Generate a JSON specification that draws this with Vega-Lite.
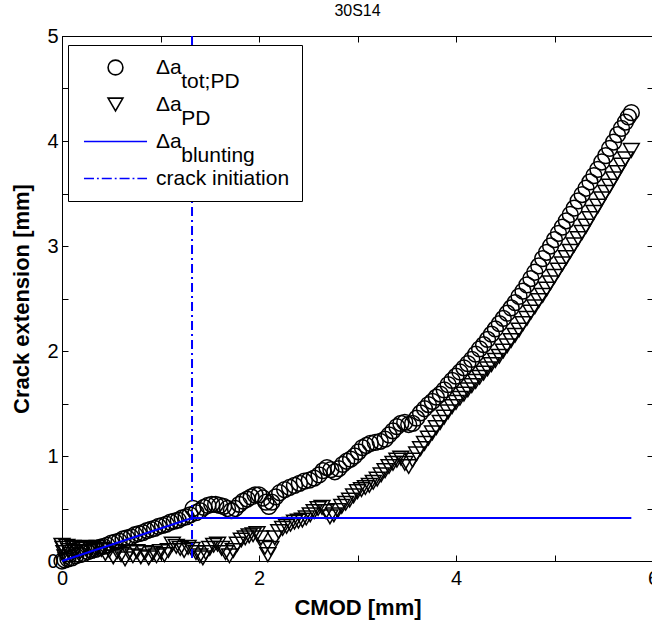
{
  "$schema": "https://vega.github.io/schema/vega-lite/v6.json",
  "width": 591,
  "height": 525,
  "autosize": {"type": "none"},
  "padding": {"left": 62, "top": 36, "right": 0, "bottom": 68},
  "background": "white",
  "title": {"text": "30S14", "font": "Liberation Sans", "fontSize": 16, "fontWeight": "normal", "color": "black", "offset": 7},
  "config": {
    "view": {"stroke": "black", "strokeWidth": 1},
    "font": "Liberation Sans",
    "style": {"guide-label": {"lineHeight": 14}},
    "axis": {"grid": false, "domainColor": "black", "domainWidth": 1, "tickColor": "black", "tickWidth": 1, "tickSize": -6,
      "labelFont": "Liberation Sans", "labelFontSize": 20, "labelColor": "black", "titleFont": "Liberation Sans", "titleFontSize": 22, "titleFontWeight": "bold", "titleColor": "black"},
    "legend": {"labelFont": "Liberation Sans", "labelFontSize": 21, "labelColor": "black"}
  },
  "datasets": {
    "pts": [
      {"s":"tot;PD","x":0.00,"y":0.00},{"s":"tot;PD","x":0.03,"y":0.01},{"s":"tot;PD","x":0.06,"y":0.02},{"s":"tot;PD","x":0.10,"y":0.03},{"s":"tot;PD","x":0.14,"y":0.05},{"s":"tot;PD","x":0.18,"y":0.06},{"s":"tot;PD","x":0.22,"y":0.07},{"s":"tot;PD","x":0.26,"y":0.09},{"s":"tot;PD","x":0.30,"y":0.10},{"s":"tot;PD","x":0.34,"y":0.11},{"s":"tot;PD","x":0.38,"y":0.13},{"s":"tot;PD","x":0.42,"y":0.14},{"s":"tot;PD","x":0.46,"y":0.15},{"s":"tot;PD","x":0.50,"y":0.17},{"s":"tot;PD","x":0.54,"y":0.18},{"s":"tot;PD","x":0.58,"y":0.19},{"s":"tot;PD","x":0.62,"y":0.21},{"s":"tot;PD","x":0.66,"y":0.22},{"s":"tot;PD","x":0.70,"y":0.23},{"s":"tot;PD","x":0.74,"y":0.25},{"s":"tot;PD","x":0.78,"y":0.26},{"s":"tot;PD","x":0.82,"y":0.27},{"s":"tot;PD","x":0.86,"y":0.29},{"s":"tot;PD","x":0.90,"y":0.30},{"s":"tot;PD","x":0.94,"y":0.31},{"s":"tot;PD","x":0.98,"y":0.33},{"s":"tot;PD","x":1.02,"y":0.34},{"s":"tot;PD","x":1.06,"y":0.35},{"s":"tot;PD","x":1.10,"y":0.37},{"s":"tot;PD","x":1.14,"y":0.38},{"s":"tot;PD","x":1.18,"y":0.39},{"s":"tot;PD","x":1.22,"y":0.41},{"s":"tot;PD","x":1.26,"y":0.42},{"s":"tot;PD","x":1.30,"y":0.44},
      {"s":"tot;PD","x":1.33,"y":0.50},{"s":"tot;PD","x":1.36,"y":0.46},{"s":"tot;PD","x":1.40,"y":0.48},{"s":"tot;PD","x":1.44,"y":0.51},{"s":"tot;PD","x":1.48,"y":0.53},{"s":"tot;PD","x":1.52,"y":0.54},{"s":"tot;PD","x":1.56,"y":0.54},{"s":"tot;PD","x":1.60,"y":0.53},{"s":"tot;PD","x":1.64,"y":0.52},{"s":"tot;PD","x":1.68,"y":0.50},{"s":"tot;PD","x":1.72,"y":0.48},{"s":"tot;PD","x":1.76,"y":0.50},{"s":"tot;PD","x":1.80,"y":0.54},{"s":"tot;PD","x":1.84,"y":0.57},{"s":"tot;PD","x":1.88,"y":0.59},{"s":"tot;PD","x":1.92,"y":0.61},{"s":"tot;PD","x":1.96,"y":0.63},{"s":"tot;PD","x":2.00,"y":0.63},{"s":"tot;PD","x":2.04,"y":0.60},{"s":"tot;PD","x":2.07,"y":0.56},{"s":"tot;PD","x":2.10,"y":0.52},{"s":"tot;PD","x":2.13,"y":0.56},{"s":"tot;PD","x":2.17,"y":0.61},{"s":"tot;PD","x":2.21,"y":0.65},{"s":"tot;PD","x":2.26,"y":0.68},{"s":"tot;PD","x":2.31,"y":0.70},{"s":"tot;PD","x":2.36,"y":0.72},{"s":"tot;PD","x":2.41,"y":0.74},{"s":"tot;PD","x":2.46,"y":0.76},{"s":"tot;PD","x":2.51,"y":0.77},{"s":"tot;PD","x":2.56,"y":0.79},{"s":"tot;PD","x":2.61,"y":0.82},{"s":"tot;PD","x":2.65,"y":0.86},{"s":"tot;PD","x":2.69,"y":0.89},{"s":"tot;PD","x":2.73,"y":0.87},{"s":"tot;PD","x":2.77,"y":0.85},{"s":"tot;PD","x":2.81,"y":0.88},{"s":"tot;PD","x":2.85,"y":0.92},{"s":"tot;PD","x":2.89,"y":0.95},{"s":"tot;PD","x":2.93,"y":0.97},{"s":"tot;PD","x":2.97,"y":1.00},{"s":"tot;PD","x":3.01,"y":1.04},{"s":"tot;PD","x":3.05,"y":1.08},{"s":"tot;PD","x":3.09,"y":1.10},{"s":"tot;PD","x":3.13,"y":1.12},{"s":"tot;PD","x":3.18,"y":1.13},{"s":"tot;PD","x":3.23,"y":1.14},{"s":"tot;PD","x":3.28,"y":1.16},{"s":"tot;PD","x":3.32,"y":1.20},{"s":"tot;PD","x":3.36,"y":1.24},{"s":"tot;PD","x":3.40,"y":1.28},{"s":"tot;PD","x":3.44,"y":1.31},{"s":"tot;PD","x":3.48,"y":1.32},{"s":"tot;PD","x":3.52,"y":1.30},{"s":"tot;PD","x":3.56,"y":1.31},{"s":"tot;PD","x":3.60,"y":1.36},{"s":"tot;PD","x":3.64,"y":1.41},{"s":"tot;PD","x":3.68,"y":1.45},{"s":"tot;PD","x":3.72,"y":1.49},{"s":"tot;PD","x":3.76,"y":1.52},{"s":"tot;PD","x":3.80,"y":1.56},{"s":"tot;PD","x":3.84,"y":1.59},{"s":"tot;PD","x":3.88,"y":1.63},{"s":"tot;PD","x":3.92,"y":1.68},{"s":"tot;PD","x":3.96,"y":1.72},{"s":"tot;PD","x":4.00,"y":1.76},{"s":"tot;PD","x":4.04,"y":1.80},{"s":"tot;PD","x":4.08,"y":1.84},{"s":"tot;PD","x":4.12,"y":1.88},{"s":"tot;PD","x":4.16,"y":1.92},{"s":"tot;PD","x":4.20,"y":1.97},{"s":"tot;PD","x":4.24,"y":2.02},{"s":"tot;PD","x":4.28,"y":2.06},{"s":"tot;PD","x":4.32,"y":2.11},{"s":"tot;PD","x":4.36,"y":2.16},{"s":"tot;PD","x":4.40,"y":2.21},{"s":"tot;PD","x":4.44,"y":2.26},{"s":"tot;PD","x":4.48,"y":2.31},{"s":"tot;PD","x":4.52,"y":2.36},{"s":"tot;PD","x":4.56,"y":2.41},{"s":"tot;PD","x":4.60,"y":2.46},{"s":"tot;PD","x":4.64,"y":2.52},{"s":"tot;PD","x":4.68,"y":2.57},{"s":"tot;PD","x":4.72,"y":2.63},{"s":"tot;PD","x":4.76,"y":2.69},{"s":"tot;PD","x":4.80,"y":2.75},{"s":"tot;PD","x":4.84,"y":2.81},{"s":"tot;PD","x":4.88,"y":2.88},{"s":"tot;PD","x":4.92,"y":2.94},{"s":"tot;PD","x":4.96,"y":3.00},{"s":"tot;PD","x":5.00,"y":3.06},{"s":"tot;PD","x":5.04,"y":3.12},{"s":"tot;PD","x":5.08,"y":3.18},{"s":"tot;PD","x":5.12,"y":3.24},{"s":"tot;PD","x":5.16,"y":3.30},{"s":"tot;PD","x":5.20,"y":3.36},{"s":"tot;PD","x":5.24,"y":3.43},{"s":"tot;PD","x":5.28,"y":3.49},{"s":"tot;PD","x":5.32,"y":3.55},{"s":"tot;PD","x":5.36,"y":3.61},{"s":"tot;PD","x":5.40,"y":3.67},{"s":"tot;PD","x":5.44,"y":3.73},{"s":"tot;PD","x":5.48,"y":3.80},{"s":"tot;PD","x":5.52,"y":3.86},{"s":"tot;PD","x":5.56,"y":3.93},{"s":"tot;PD","x":5.60,"y":3.99},{"s":"tot;PD","x":5.64,"y":4.06},{"s":"tot;PD","x":5.68,"y":4.12},{"s":"tot;PD","x":5.72,"y":4.18},{"s":"tot;PD","x":5.75,"y":4.23},{"s":"tot;PD","x":5.78,"y":4.27},
      {"s":"PD","x":0.00,"y":0.15},{"s":"PD","x":0.01,"y":0.12},{"s":"PD","x":0.02,"y":0.08},{"s":"PD","x":0.03,"y":0.04},{"s":"PD","x":0.04,"y":0.01},{"s":"PD","x":0.05,"y":0.14},{"s":"PD","x":0.07,"y":0.10},{"s":"PD","x":0.09,"y":0.06},{"s":"PD","x":0.11,"y":0.13},{"s":"PD","x":0.13,"y":0.09},{"s":"PD","x":0.15,"y":0.12},{"s":"PD","x":0.18,"y":0.08},{"s":"PD","x":0.21,"y":0.11},{"s":"PD","x":0.24,"y":0.13},{"s":"PD","x":0.27,"y":0.09},{"s":"PD","x":0.30,"y":0.12},{"s":"PD","x":0.33,"y":0.10},{"s":"PD","x":0.36,"y":0.13},{"s":"PD","x":0.40,"y":0.11},{"s":"PD","x":0.44,"y":0.07},{"s":"PD","x":0.48,"y":0.10},{"s":"PD","x":0.52,"y":0.04},{"s":"PD","x":0.56,"y":0.09},{"s":"PD","x":0.60,"y":0.06},{"s":"PD","x":0.64,"y":0.02},{"s":"PD","x":0.68,"y":0.08},{"s":"PD","x":0.72,"y":0.05},{"s":"PD","x":0.76,"y":0.09},{"s":"PD","x":0.80,"y":0.04},{"s":"PD","x":0.84,"y":0.08},{"s":"PD","x":0.88,"y":0.03},{"s":"PD","x":0.92,"y":0.07},{"s":"PD","x":0.96,"y":0.05},{"s":"PD","x":1.00,"y":0.09},{"s":"PD","x":1.04,"y":0.06},{"s":"PD","x":1.08,"y":0.10},{"s":"PD","x":1.12,"y":0.16},{"s":"PD","x":1.16,"y":0.14},{"s":"PD","x":1.20,"y":0.12},{"s":"PD","x":1.24,"y":0.10},{"s":"PD","x":1.28,"y":0.13},{"s":"PD","x":1.32,"y":0.11},{"s":"PD","x":1.36,"y":0.08},{"s":"PD","x":1.40,"y":0.05},{"s":"PD","x":1.43,"y":0.03},{"s":"PD","x":1.46,"y":0.08},{"s":"PD","x":1.50,"y":0.12},{"s":"PD","x":1.54,"y":0.15},{"s":"PD","x":1.58,"y":0.16},{"s":"PD","x":1.62,"y":0.12},{"s":"PD","x":1.66,"y":0.08},{"s":"PD","x":1.70,"y":0.05},{"s":"PD","x":1.74,"y":0.10},{"s":"PD","x":1.78,"y":0.16},{"s":"PD","x":1.82,"y":0.20},{"s":"PD","x":1.86,"y":0.22},{"s":"PD","x":1.90,"y":0.24},{"s":"PD","x":1.94,"y":0.25},{"s":"PD","x":1.98,"y":0.26},{"s":"PD","x":2.02,"y":0.22},{"s":"PD","x":2.06,"y":0.13},{"s":"PD","x":2.09,"y":0.06},{"s":"PD","x":2.12,"y":0.12},{"s":"PD","x":2.16,"y":0.22},{"s":"PD","x":2.20,"y":0.28},{"s":"PD","x":2.24,"y":0.31},{"s":"PD","x":2.28,"y":0.33},{"s":"PD","x":2.32,"y":0.35},{"s":"PD","x":2.36,"y":0.37},{"s":"PD","x":2.40,"y":0.38},{"s":"PD","x":2.44,"y":0.39},{"s":"PD","x":2.48,"y":0.41},{"s":"PD","x":2.52,"y":0.44},{"s":"PD","x":2.56,"y":0.47},{"s":"PD","x":2.60,"y":0.50},{"s":"PD","x":2.64,"y":0.51},{"s":"PD","x":2.68,"y":0.47},{"s":"PD","x":2.72,"y":0.42},{"s":"PD","x":2.76,"y":0.44},{"s":"PD","x":2.80,"y":0.48},{"s":"PD","x":2.84,"y":0.52},{"s":"PD","x":2.88,"y":0.55},{"s":"PD","x":2.92,"y":0.58},{"s":"PD","x":2.96,"y":0.62},{"s":"PD","x":3.00,"y":0.66},{"s":"PD","x":3.04,"y":0.68},{"s":"PD","x":3.08,"y":0.70},{"s":"PD","x":3.12,"y":0.72},{"s":"PD","x":3.16,"y":0.75},{"s":"PD","x":3.20,"y":0.78},{"s":"PD","x":3.24,"y":0.82},{"s":"PD","x":3.28,"y":0.86},{"s":"PD","x":3.32,"y":0.90},{"s":"PD","x":3.36,"y":0.93},{"s":"PD","x":3.40,"y":0.96},{"s":"PD","x":3.44,"y":0.98},{"s":"PD","x":3.48,"y":0.93},{"s":"PD","x":3.52,"y":0.90},{"s":"PD","x":3.56,"y":0.96},{"s":"PD","x":3.60,"y":1.02},{"s":"PD","x":3.64,"y":1.07},{"s":"PD","x":3.68,"y":1.12},{"s":"PD","x":3.72,"y":1.17},{"s":"PD","x":3.76,"y":1.22},{"s":"PD","x":3.80,"y":1.27},{"s":"PD","x":3.84,"y":1.32},{"s":"PD","x":3.88,"y":1.37},{"s":"PD","x":3.92,"y":1.42},{"s":"PD","x":3.96,"y":1.47},{"s":"PD","x":4.00,"y":1.51},{"s":"PD","x":4.04,"y":1.55},{"s":"PD","x":4.08,"y":1.59},{"s":"PD","x":4.12,"y":1.63},{"s":"PD","x":4.16,"y":1.67},{"s":"PD","x":4.20,"y":1.71},{"s":"PD","x":4.24,"y":1.75},{"s":"PD","x":4.28,"y":1.79},{"s":"PD","x":4.32,"y":1.83},{"s":"PD","x":4.36,"y":1.87},{"s":"PD","x":4.40,"y":1.91},{"s":"PD","x":4.44,"y":1.95},{"s":"PD","x":4.48,"y":2.00},{"s":"PD","x":4.52,"y":2.05},{"s":"PD","x":4.56,"y":2.10},{"s":"PD","x":4.60,"y":2.15},{"s":"PD","x":4.64,"y":2.20},{"s":"PD","x":4.68,"y":2.26},{"s":"PD","x":4.72,"y":2.31},{"s":"PD","x":4.76,"y":2.37},{"s":"PD","x":4.80,"y":2.42},{"s":"PD","x":4.84,"y":2.48},{"s":"PD","x":4.88,"y":2.53},{"s":"PD","x":4.92,"y":2.59},{"s":"PD","x":4.96,"y":2.65},{"s":"PD","x":5.00,"y":2.71},{"s":"PD","x":5.04,"y":2.77},{"s":"PD","x":5.08,"y":2.83},{"s":"PD","x":5.12,"y":2.89},{"s":"PD","x":5.16,"y":2.95},{"s":"PD","x":5.20,"y":3.01},{"s":"PD","x":5.24,"y":3.07},{"s":"PD","x":5.28,"y":3.13},{"s":"PD","x":5.32,"y":3.19},{"s":"PD","x":5.36,"y":3.26},{"s":"PD","x":5.40,"y":3.32},{"s":"PD","x":5.44,"y":3.38},{"s":"PD","x":5.48,"y":3.45},{"s":"PD","x":5.52,"y":3.51},{"s":"PD","x":5.56,"y":3.57},{"s":"PD","x":5.60,"y":3.64},{"s":"PD","x":5.64,"y":3.70},{"s":"PD","x":5.68,"y":3.77},{"s":"PD","x":5.72,"y":3.83},{"s":"PD","x":5.78,"y":3.91}
    ],
    "blunt": [
      {"s":"blunting","x":0,"y":0},{"s":"blunting","x":1.32,"y":0.41},{"s":"blunting","x":5.78,"y":0.41}
    ],
    "init": [
      {"s":"crack initiation","x":1.32}
    ]
  },
  "resolve": {"axis": {"x": "independent", "y": "independent"}},
  "layer": [
    {
      "data": {"name": "pts"},
      "mark": {"type": "point", "filled": false, "size": 250, "strokeWidth": 1.5, "opacity": 1},
      "encoding": {
        "x": {"field": "x", "type": "quantitative", "scale": {"domain": [0, 6], "nice": false, "zero": false},
          "axis": {"orient": "bottom", "values": [0,1,2,3,4,5,6], "labelExpr": "datum.value % 2 === 0 ? format(datum.value, 'd') : ''", "labelPadding": 13, "title": "CMOD [mm]", "titlePadding": 9, "labelFlush": false}},
        "y": {"field": "y", "type": "quantitative", "scale": {"domain": [0, 5], "nice": false, "zero": false},
          "axis": {"orient": "left", "values": [0,0.5,1,1.5,2,2.5,3,3.5,4,4.5,5], "labelExpr": "datum.value % 1 === 0 ? format(datum.value, 'd') : ''", "labelPadding": 10, "title": "Crack extension [mm]", "titlePadding": 13, "labelFlush": false}},
        "shape": {"field": "s", "type": "nominal",
          "scale": {"domain": ["tot;PD", "PD", "blunting", "crack initiation"],
                    "range": ["circle", "triangle-down", "M-4.25,0H4.25", "M-4.25,0H-2.9M-2.5,0H-2.25M-1.85,0H-0.5M-0.1,0H0.15M0.55,0H1.9M2.3,0H2.55M2.95,0H4.25"]},
          "legend": {"title": null, "orient": "none", "legendX": 6, "legendY": 9, "labelExpr": "datum.label === 'crack initiation' ? datum.label : ['Δa', '\u200b\u2002\u2002\u2009' + datum.label]",
            "strokeColor": "black", "fillColor": "white", "padding": 12, "cornerRadius": 0, "labelOffset": 30, "symbolOffset": 25, "rowPadding": 1, "symbolStrokeWidth": 1.6, "symbolSize": 220}},
        "color": {"field": "s", "type": "nominal",
          "scale": {"domain": ["tot;PD", "PD", "blunting", "crack initiation"], "range": ["#000000", "#000000", "#0000ff", "#0000ff"]},
          "legend": {"title": null, "orient": "none", "legendX": 6, "legendY": 9, "labelExpr": "datum.label === 'crack initiation' ? datum.label : ['Δa', '\u200b\u2002\u2002\u2009' + datum.label]",
            "strokeColor": "black", "fillColor": "white", "padding": 12, "cornerRadius": 0, "labelOffset": 30, "symbolOffset": 25, "rowPadding": 1, "symbolStrokeWidth": 1.6, "symbolSize": 220}}
      }
    },
    {
      "data": {"name": "blunt"},
      "mark": {"type": "line", "color": "#0000ff", "strokeWidth": 2},
      "encoding": {
        "x": {"field": "x", "type": "quantitative", "axis": null},
        "y": {"field": "y", "type": "quantitative",
          "axis": {"orient": "right", "values": [0,0.5,1,1.5,2,2.5,3,3.5,4,4.5,5], "labels": false, "title": null}}
      }
    },
    {
      "data": {"name": "init"},
      "mark": {"type": "rule", "color": "#0000ff", "strokeWidth": 2, "strokeDash": [9, 4, 2, 4]},
      "encoding": {
        "x": {"field": "x", "type": "quantitative",
          "axis": {"orient": "top", "values": [0,1,2,3,4,5,6], "labels": false, "title": null}}
      }
    }
  ]
}
